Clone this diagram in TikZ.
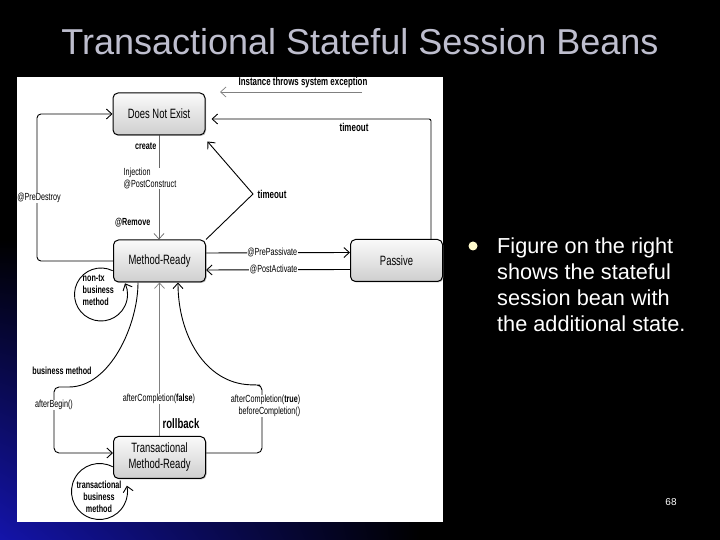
\documentclass[tikz,border=0pt]{standalone}
\usepackage{fontspec}
\setmainfont{Liberation Sans}
\newfontfamily\diagfont[FakeStretch=0.7]{Liberation Sans}
\usetikzlibrary{calc, arrows.meta, positioning, shadows, shadings}
\definecolor{titlegray}{RGB}{190,190,206}
\definecolor{slideblue}{RGB}{20,20,170}
\definecolor{bulletcream}{RGB}{255,250,205}
\pgfdeclarelayer{back}
\pgfdeclarelayer{wires}
\pgfsetlayers{back,wires,main}

\begin{document}
\begin{tikzpicture}[x=1pt, y=1pt,
    beanstate/.style={draw=black, line width=1pt, rounded corners=5pt, top color=gray!4, bottom color=gray!38,
      minimum width=92pt, minimum height=42pt, inner sep=1pt, align=center,
      font=\diagfont\fontsize{13.5}{16}\selectfont,
      drop shadow={shadow xshift=1pt, shadow yshift=-1pt, opacity=0.5}},
    trans/.style={-{Straight Barb[length=5.5pt, width=10pt]}, line width=0.9pt},
    lbl/.style={font=\diagfont\fontsize{10.3}{12}\selectfont, inner sep=0.5pt},
    blbl/.style={lbl, font=\diagfont\bfseries\fontsize{10.3}{12}\selectfont},
    onlbl/.style={lbl, fill=white}]
  \useasboundingbox (0,0) rectangle (720,540);

  % slide background
  \begin{pgfonlayer}{back}
    \fill[black] (0,0) rectangle (720,540);
    \shade[lower left=slideblue, upper left=black, lower right=black, upper right=black] (0,0) rectangle (420,300);
    \fill[white] (17,18) rectangle (443,463);
  \end{pgfonlayer}

  \node[font=\fontsize{36}{40}\selectfont, text=titlegray] (title) at (360,498) {Transactional Stateful Session Beans};
  \node[circle, fill=bulletcream, minimum size=9pt, inner sep=0pt] (dot) at (473,294) {};
  \node[anchor=north west, align=left, inner sep=0pt, text=white, font=\fontsize{21.7}{26}\selectfont] (desc) at (497,302)
    {Figure on the right\\shows the stateful\\session bean with\\the additional state.};
  \node[text=white, font=\fontsize{10}{12}\selectfont] (pageno) at (671,38) {68};

  % states
  \node[beanstate] (dne) at (159,426) {Does Not Exist};
  \node[beanstate] (mr) at (159.5,279) {Method-Ready};
  \node[beanstate] (pas) at (396.5,279.5) {Passive};
  \node[beanstate] (tmr) at (159.5,82.5) {Transactional\\Method-Ready};

  \begin{pgfonlayer}{wires}
    % create / remove
    \draw[trans, gray!80!black, line width=0.7pt] (dne.south) -- (dne.south |- mr.north);
    \node[blbl, anchor=east] (lcreate) at (157,394) {create};
    \node[onlbl, anchor=west, align=left] (linject) at (123,361.5) {Injection\\@PostConstruct};
    \node[blbl, anchor=east] (lremove) at (151,317) {@Remove};
    \draw[trans, rounded corners=4pt] (mr.west) -| ($(dne.west)+(-75.5,0)$) -- (dne.west);
    \node[onlbl] (lpredestroy) at (39,342) {@PreDestroy};

    % exception and timeouts
    \coordinate (excA) at (362,448);
    \coordinate (excB) at (220,448);
    \draw[trans, gray, line width=0.7pt] (excA) -- (excB);
    \node[blbl, font=\diagfont\bfseries\fontsize{11.3}{13}\selectfont] (lexc) at (303,457) {Instance throws system exception};
    \coordinate (tto) at (431,421);
    \draw[trans, rounded corners=2pt] (tto |- pas.north) -- (tto) -- ($(tto -| dne.east)+(6,0)$);
    \node[blbl, font=\diagfont\bfseries\fontsize{11.4}{13}\selectfont] (ltime1) at (354,413) {timeout};
    \coordinate (tdv) at (253,346);
    \draw[trans] (mr.north east) -- (tdv) -- ($(dne.south east)+(2,-6)$);
    \node[blbl, anchor=west, font=\diagfont\bfseries\fontsize{11.4}{13}\selectfont] (ltime2) at (257,346) {timeout};

    % passivation
    \draw[trans] ([yshift=8pt]mr.east) -- node[onlbl, pos=0.46] (lprepass) {@PrePassivate} ([yshift=8pt]pas.west);
    \draw[trans] ([yshift=-9pt]pas.west) -- node[onlbl, pos=0.53] (lpostact) {@PostActivate} ([yshift=-9pt]mr.east);

    % non-tx business method
    \coordinate (ntc) at ($(mr.south west)+(-12,-12)$);
    \draw[trans] (ntc) ++(64:26.5) arc[start angle=64, end angle=385, radius=26.5];
    \node[blbl, anchor=west, align=left] (lnontx) at (82,250) {non-tx\\business\\method};

    % into a transaction
    \draw[trans, rounded corners=5pt] ([xshift=-21.5pt]mr.south) .. controls (138,215) and (110,153) .. (64,153)
      -- (54,153) -- (54,87) -- ([yshift=4.5pt]tmr.west);
    \node[blbl] (lbizm) at (62,169) {business method};
    \node[onlbl] (lbegin) at (54,135) {afterBegin()};

    % rollback
    \draw[trans, gray, line width=0.7pt] (tmr.north) -- (mr.south);
    \node[onlbl] (lfalse) at (159,141) {afterCompletion(\textbf{false})};
    \node[blbl, font=\diagfont\bfseries\fontsize{13.7}{16}\selectfont] (lroll) at (181,116) {rollback};

    % commit
    \draw[trans, rounded corners=5pt] ([yshift=4.5pt]tmr.east) -- (262,87) -- (262,155) -- (255,155)
      .. controls (205,157) and (178,205) .. ([xshift=18.5pt]mr.south);
    \node[onlbl, anchor=east, align=right] (ltrue) at (301,134) {afterCompletion(\textbf{true})\\beforeCompletion()};

    % transactional business method
    \coordinate (txc) at ($(tmr.south west)+(-13.5,-12.5)$);
    \draw[trans] (txc) ++(62:28) arc[start angle=62, end angle=372, radius=28];
    \node[blbl, align=center] (ltx) at (99,43) {transactional\\business\\method};
  \end{pgfonlayer}
\end{tikzpicture}
\end{document}
